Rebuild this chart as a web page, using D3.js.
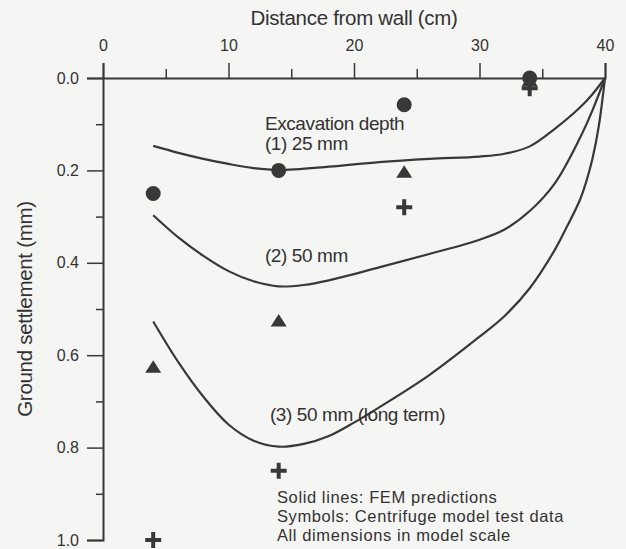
<!DOCTYPE html>
<html>
<head>
<meta charset="utf-8">
<script src="https://cdn.jsdelivr.net/npm/d3@7"></script>
<style>
  body { margin: 0; background: #f5f5f3; }
  svg { display: block; font-family: "Liberation Sans", Arial, sans-serif; }
</style>
</head>
<body>
<div id="grafico"></div>
<script>
// Eixos
const xTicksMaior = [0, 10, 20, 30, 40];
const xTicksMenor = [5, 15, 25, 35];
const yTicksMaior = [0.0, 0.2, 0.4, 0.6, 0.8, 1.0];
const yTicksMenor = [0.1, 0.3, 0.5, 0.7, 0.9];

// Curvas FEM (distância cm, recalque mm)
const fem25x = [4, 6, 8, 10, 12, 14, 18, 22, 26, 30, 32, 34, 36, 38, 39, 40];
const fem25y = [0.147, 0.162, 0.175, 0.186, 0.195, 0.199, 0.192, 0.182, 0.175, 0.170, 0.164, 0.148, 0.110, 0.064, 0.035, 0.0];

const fem50x = [4, 6, 8, 10, 12, 14, 16, 18, 22, 26, 30, 32, 34, 36, 38, 39, 40];
const fem50y = [0.297, 0.345, 0.385, 0.418, 0.440, 0.451, 0.448, 0.438, 0.410, 0.381, 0.350, 0.328, 0.288, 0.228, 0.130, 0.070, 0.0];

const femLongoX = [4, 6, 8, 10, 12, 14, 16, 18, 20, 22, 26, 30, 32, 34, 36, 37, 38, 38.5, 39, 39.5, 40];
const femLongoY = [0.527, 0.615, 0.690, 0.750, 0.785, 0.798, 0.792, 0.775, 0.746, 0.713, 0.643, 0.560, 0.515, 0.455, 0.372, 0.320, 0.264, 0.225, 0.175, 0.105, 0.0];

// Dados da centrífuga
const ensaioX = [4, 14, 24, 34];
const circulosY = [0.25, 0.20, 0.058, 0.0];
const triangulosY = [0.625, 0.525, 0.203, 0.005];
const cruzesY = [1.0, 0.85, 0.28, 0.022];

const rotulos = [
  { x: 12.9, y: 0.113, t: "Excavation depth" },
  { x: 12.9, y: 0.156, t: "(1) 25 mm" },
  { x: 12.9, y: 0.398, t: "(2) 50 mm" },
  { x: 13.3, y: 0.743, t: "(3) 50 mm (long term)" }
];
const notas = ["Solid lines: FEM predictions", "Symbols: Centrifuge model test data", "All dimensions in model scale"];

const largura = 626, altura = 549;
const cor = "#383838";
const fonte = "Liberation Sans, Arial, sans-serif";

const svg = d3.select("#grafico").append("svg")
  .attr("width", largura)
  .attr("height", altura);

const x = d3.scaleLinear().domain([0, 40]).range([103, 605]);
const y = d3.scaleLinear().domain([0, 1]).range([78, 540]);

// Eixo superior
svg.append("g")
  .attr("transform", `translate(0,${y(0)})`)
  .call(d3.axisTop(x).tickValues(xTicksMaior).tickSize(15).tickPadding(12).tickFormat(d => d))
  .call(g => g.select(".domain").attr("stroke", cor).attr("stroke-width", 2))
  .call(g => g.selectAll(".tick line").attr("stroke", cor).attr("stroke-width", 1.5))
  .call(g => g.selectAll(".tick text").attr("fill", "#333").attr("font-size", 16).attr("font-family", fonte));

svg.append("g")
  .attr("transform", `translate(0,${y(0)})`)
  .call(d3.axisTop(x).tickValues(xTicksMenor).tickSize(9).tickFormat(""))
  .call(g => g.select(".domain").remove())
  .call(g => g.selectAll(".tick line").attr("stroke", cor).attr("stroke-width", 1.5));

// Eixo esquerdo
svg.append("g")
  .attr("transform", `translate(${x(0)},0)`)
  .call(d3.axisLeft(y).tickValues(yTicksMaior).tickSize(16).tickPadding(8).tickFormat(d3.format(".1f")))
  .call(g => g.select(".domain").attr("stroke", cor).attr("stroke-width", 2))
  .call(g => g.selectAll(".tick line").attr("stroke", cor).attr("stroke-width", 1.5))
  .call(g => g.selectAll(".tick text").attr("fill", "#333").attr("font-size", 16).attr("font-family", fonte));

svg.append("g")
  .attr("transform", `translate(${x(0)},0)`)
  .call(d3.axisLeft(y).tickValues(yTicksMenor).tickSize(7).tickFormat(""))
  .call(g => g.select(".domain").remove())
  .call(g => g.selectAll(".tick line").attr("stroke", cor).attr("stroke-width", 1.5));

// Títulos dos eixos
svg.append("text")
  .attr("x", (x(0) + x(40)) / 2)
  .attr("y", 25)
  .attr("text-anchor", "middle")
  .attr("font-size", 20.5)
  .attr("letter-spacing", -0.3)
  .attr("fill", "#333")
  .text("Distance from wall (cm)");

svg.append("text")
  .attr("transform", `translate(32,${309}) rotate(-90)`)
  .attr("text-anchor", "middle")
  .attr("font-size", 20.5)
  .attr("letter-spacing", -0.3)
  .attr("fill", "#333")
  .text("Ground settlement (mm)");

// Curvas
const linha = d3.line()
  .x(d => x(d[0]))
  .y(d => y(d[1]))
  .curve(d3.curveCatmullRom.alpha(0.5));

[[fem25x, fem25y], [fem50x, fem50y], [femLongoX, femLongoY]].forEach(([xs, ys]) => {
  svg.append("path")
    .datum(xs.map((v, i) => [v, ys[i]]))
    .attr("fill", "none")
    .attr("stroke", cor)
    .attr("stroke-width", 2.2)
    .attr("d", linha);
});

// Símbolos
svg.selectAll(".circulo")
  .data(ensaioX.map((v, i) => [v, circulosY[i]]))
  .join("circle")
  .attr("cx", d => x(d[0]))
  .attr("cy", d => y(d[1]))
  .attr("r", 7.5)
  .attr("fill", cor);

svg.selectAll(".triangulo")
  .data(ensaioX.map((v, i) => [v, triangulosY[i]]))
  .join("path")
  .attr("transform", d => `translate(${x(d[0])},${y(d[1])})`)
  .attr("d", "M0,-6.5L8,6L-8,6Z")
  .attr("fill", cor);

svg.selectAll(".cruz")
  .data(ensaioX.map((v, i) => [v, cruzesY[i]]))
  .join("path")
  .attr("transform", d => `translate(${x(d[0])},${y(d[1])})`)
  .attr("d", "M-8,0H8M0,-8V8")
  .attr("stroke", cor)
  .attr("stroke-width", 4);

// Rótulos das curvas
svg.selectAll(".rotulo")
  .data(rotulos)
  .join("text")
  .attr("x", d => x(d.x))
  .attr("y", d => y(d.y))
  .attr("font-size", 19)
  .attr("fill", "#333")
  .attr("letter-spacing", -0.4)
  .text(d => d.t);

// Notas (espaçamento de 19 px para não sobrepor)
svg.selectAll(".nota")
  .data(notas)
  .join("text")
  .attr("x", 277)
  .attr("y", (d, i) => 503 + i * 19)
  .attr("font-size", 16.5)
  .attr("fill", "#333")
  .attr("letter-spacing", 0.6)
  .text(d => d);
</script>
</body>
</html>
